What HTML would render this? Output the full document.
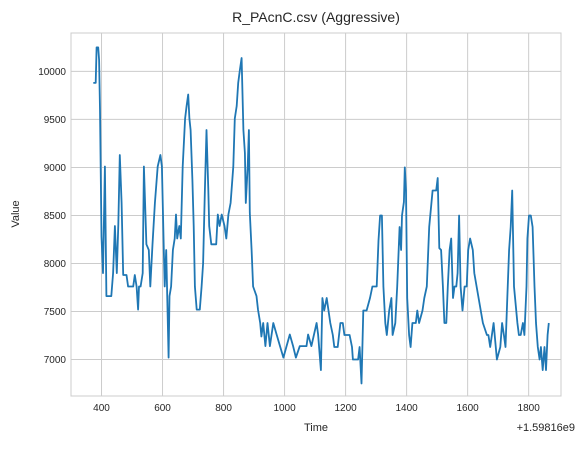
<!DOCTYPE html>
<html><head><meta charset="utf-8"><style>
body{margin:0;background:#fff;font-family:"Liberation Sans",sans-serif;}
svg text{font-family:"Liberation Sans",sans-serif;fill:#262626;}
</style></head><body>
<svg id="chart" width="577" height="444" xmlns="http://www.w3.org/2000/svg">
<rect width="577" height="444" fill="#fff"/>
<g id="grid"></g><g id="plot"></g><g id="axes"></g>
</svg>
<script>
const times=[373,381,384,389,392,395,400,405,411,416,432,438,444,450,455,460,466,471,482,487,504,509,515,520,523,528,535,539,547,555,560,567,575,584,593,598,604,607,612,620,623,628,634,640,644,648,655,660,666,674,679,684,688,692,698,702,706,712,722,728,733,739,744,750,753,760,776,781,787,794,803,809,816,823,832,837,843,848,853,859,865,870,873,879,883,886,892,897,908,913,920,924,930,937,944,952,963,974,985,996,1017,1028,1037,1050,1072,1077,1088,1105,1110,1119,1124,1130,1138,1150,1158,1163,1174,1183,1191,1196,1213,1221,1224,1241,1246,1252,1258,1269,1280,1288,1302,1308,1313,1319,1324,1330,1335,1343,1350,1354,1363,1369,1377,1382,1385,1391,1394,1398,1402,1408,1413,1419,1430,1435,1441,1452,1458,1466,1474,1485,1497,1502,1507,1513,1519,1524,1530,1535,1541,1546,1552,1557,1563,1567,1572,1577,1583,1590,1597,1602,1608,1617,1622,1650,1663,1668,1674,1685,1696,1707,1713,1719,1724,1730,1736,1741,1746,1752,1763,1768,1774,1781,1786,1793,1796,1801,1807,1813,1819,1824,1830,1836,1840,1846,1852,1857,1862,1866];
const values=[9880,9880,10250,10250,10120,9600,8280,7900,9010,7660,7660,7900,8390,7900,8400,9130,8630,7880,7880,7760,7760,7880,7760,7520,7760,7760,7900,9010,8200,8140,7760,8200,8630,9010,9130,9010,8140,7760,8140,7020,7660,7760,8140,8260,8510,8260,8390,8260,9010,9510,9640,9760,9510,9390,8870,8390,7760,7520,7520,7760,8000,8770,9390,8770,8390,8200,8200,8510,8390,8510,8390,8260,8510,8630,9010,9510,9640,9880,10000,10140,9390,9150,8630,9010,9390,8530,8140,7760,7660,7520,7380,7240,7380,7140,7380,7140,7380,7260,7140,7020,7260,7140,7020,7140,7140,7260,7140,7380,7260,6890,7640,7510,7640,7380,7255,7130,7130,7380,7380,7255,7255,7130,7000,7000,7130,6750,7510,7510,7640,7760,7760,8240,8500,8500,7760,7380,7255,7510,7640,7255,7380,7760,8380,8140,8500,8640,9000,8760,7640,7255,7130,7380,7380,7510,7380,7510,7640,7760,8380,8760,8760,8890,8160,8140,7760,7380,7380,7760,8140,8260,7640,7760,7760,7900,8500,7760,7510,7760,7760,8140,8260,8140,7900,7380,7255,7255,7130,7380,7000,7130,7380,7255,7130,7640,8140,8380,8760,7760,7380,7255,7255,7380,7255,7760,8260,8500,8500,8380,7760,7380,7130,7000,7130,6890,7130,6890,7255,7380,8500,7255];
const xTicks=[400,600,800,1000,1200,1400,1600,1800];
const xTickLabels=["400","600","800","1000","1200","1400","1600","1800"];
const yTicks=[7000,7500,8000,8500,9000,9500,10000];
const yTickLabels=["7000","7500","8000","8500","9000","9500","10000"];
const L=71,R=561,T=33,B=396;
const xMin=300,xMax=1906,yMin=6620,yMax=10400;
function xs(t){return L+(t-xMin)/(xMax-xMin)*(R-L);}
function ys(v){return B-(v-yMin)/(yMax-yMin)*(B-T);}
const NS="http://www.w3.org/2000/svg";
function mk(tag,attrs,parent){const e=document.createElementNS(NS,tag);for(const k in attrs)e.setAttribute(k,attrs[k]);parent.appendChild(e);return e;}
const grid=document.getElementById('grid'),plot=document.getElementById('plot'),axes=document.getElementById('axes');
xTicks.forEach((t,i)=>{
  const g=mk('line',{x1:xs(t),x2:xs(t),y1:T,y2:B,stroke:'#cccccc','stroke-width':1},grid);
  
  
  const tx=mk('text',{x:xs(t),y:B+15,'font-size':10,'text-anchor':'middle'},axes);
  tx.textContent=xTickLabels[i];
  
  
});
yTicks.forEach((v,i)=>{
  const g=mk('line',{x1:L,x2:R,y1:ys(v),y2:ys(v),stroke:'#cccccc','stroke-width':1},grid);
  
  
  const tx=mk('text',{x:L-5,y:ys(v)+3.5,'font-size':10,'text-anchor':'end'},axes);
  tx.textContent=yTickLabels[i];
  
  
});
const fr=mk('rect',{x:L,y:T,width:R-L,height:B-T,fill:'none',stroke:'#cccccc','stroke-width':1},axes);


const pts=times.map((t,i)=>xs(t).toFixed(1)+','+ys(values[i]).toFixed(1)).join(' ');
const line=mk('polyline',{points:pts,fill:'none',stroke:'#1f77b4','stroke-width':1.8,'stroke-linejoin':'round'},plot);


</script>
<svg style="position:absolute;left:0;top:0" width="577" height="444">
<text x="316" y="22" font-size="14" text-anchor="middle">R_PAcnC.csv (Aggressive)</text>
<text x="316" y="431" font-size="11" text-anchor="middle">Time</text>
<text x="575" y="431" font-size="11" text-anchor="end">+1.59816e9</text>
<text x="19" y="214" font-size="11" text-anchor="middle" transform="rotate(-90 19 214)">Value</text>
</svg>
</body></html>
